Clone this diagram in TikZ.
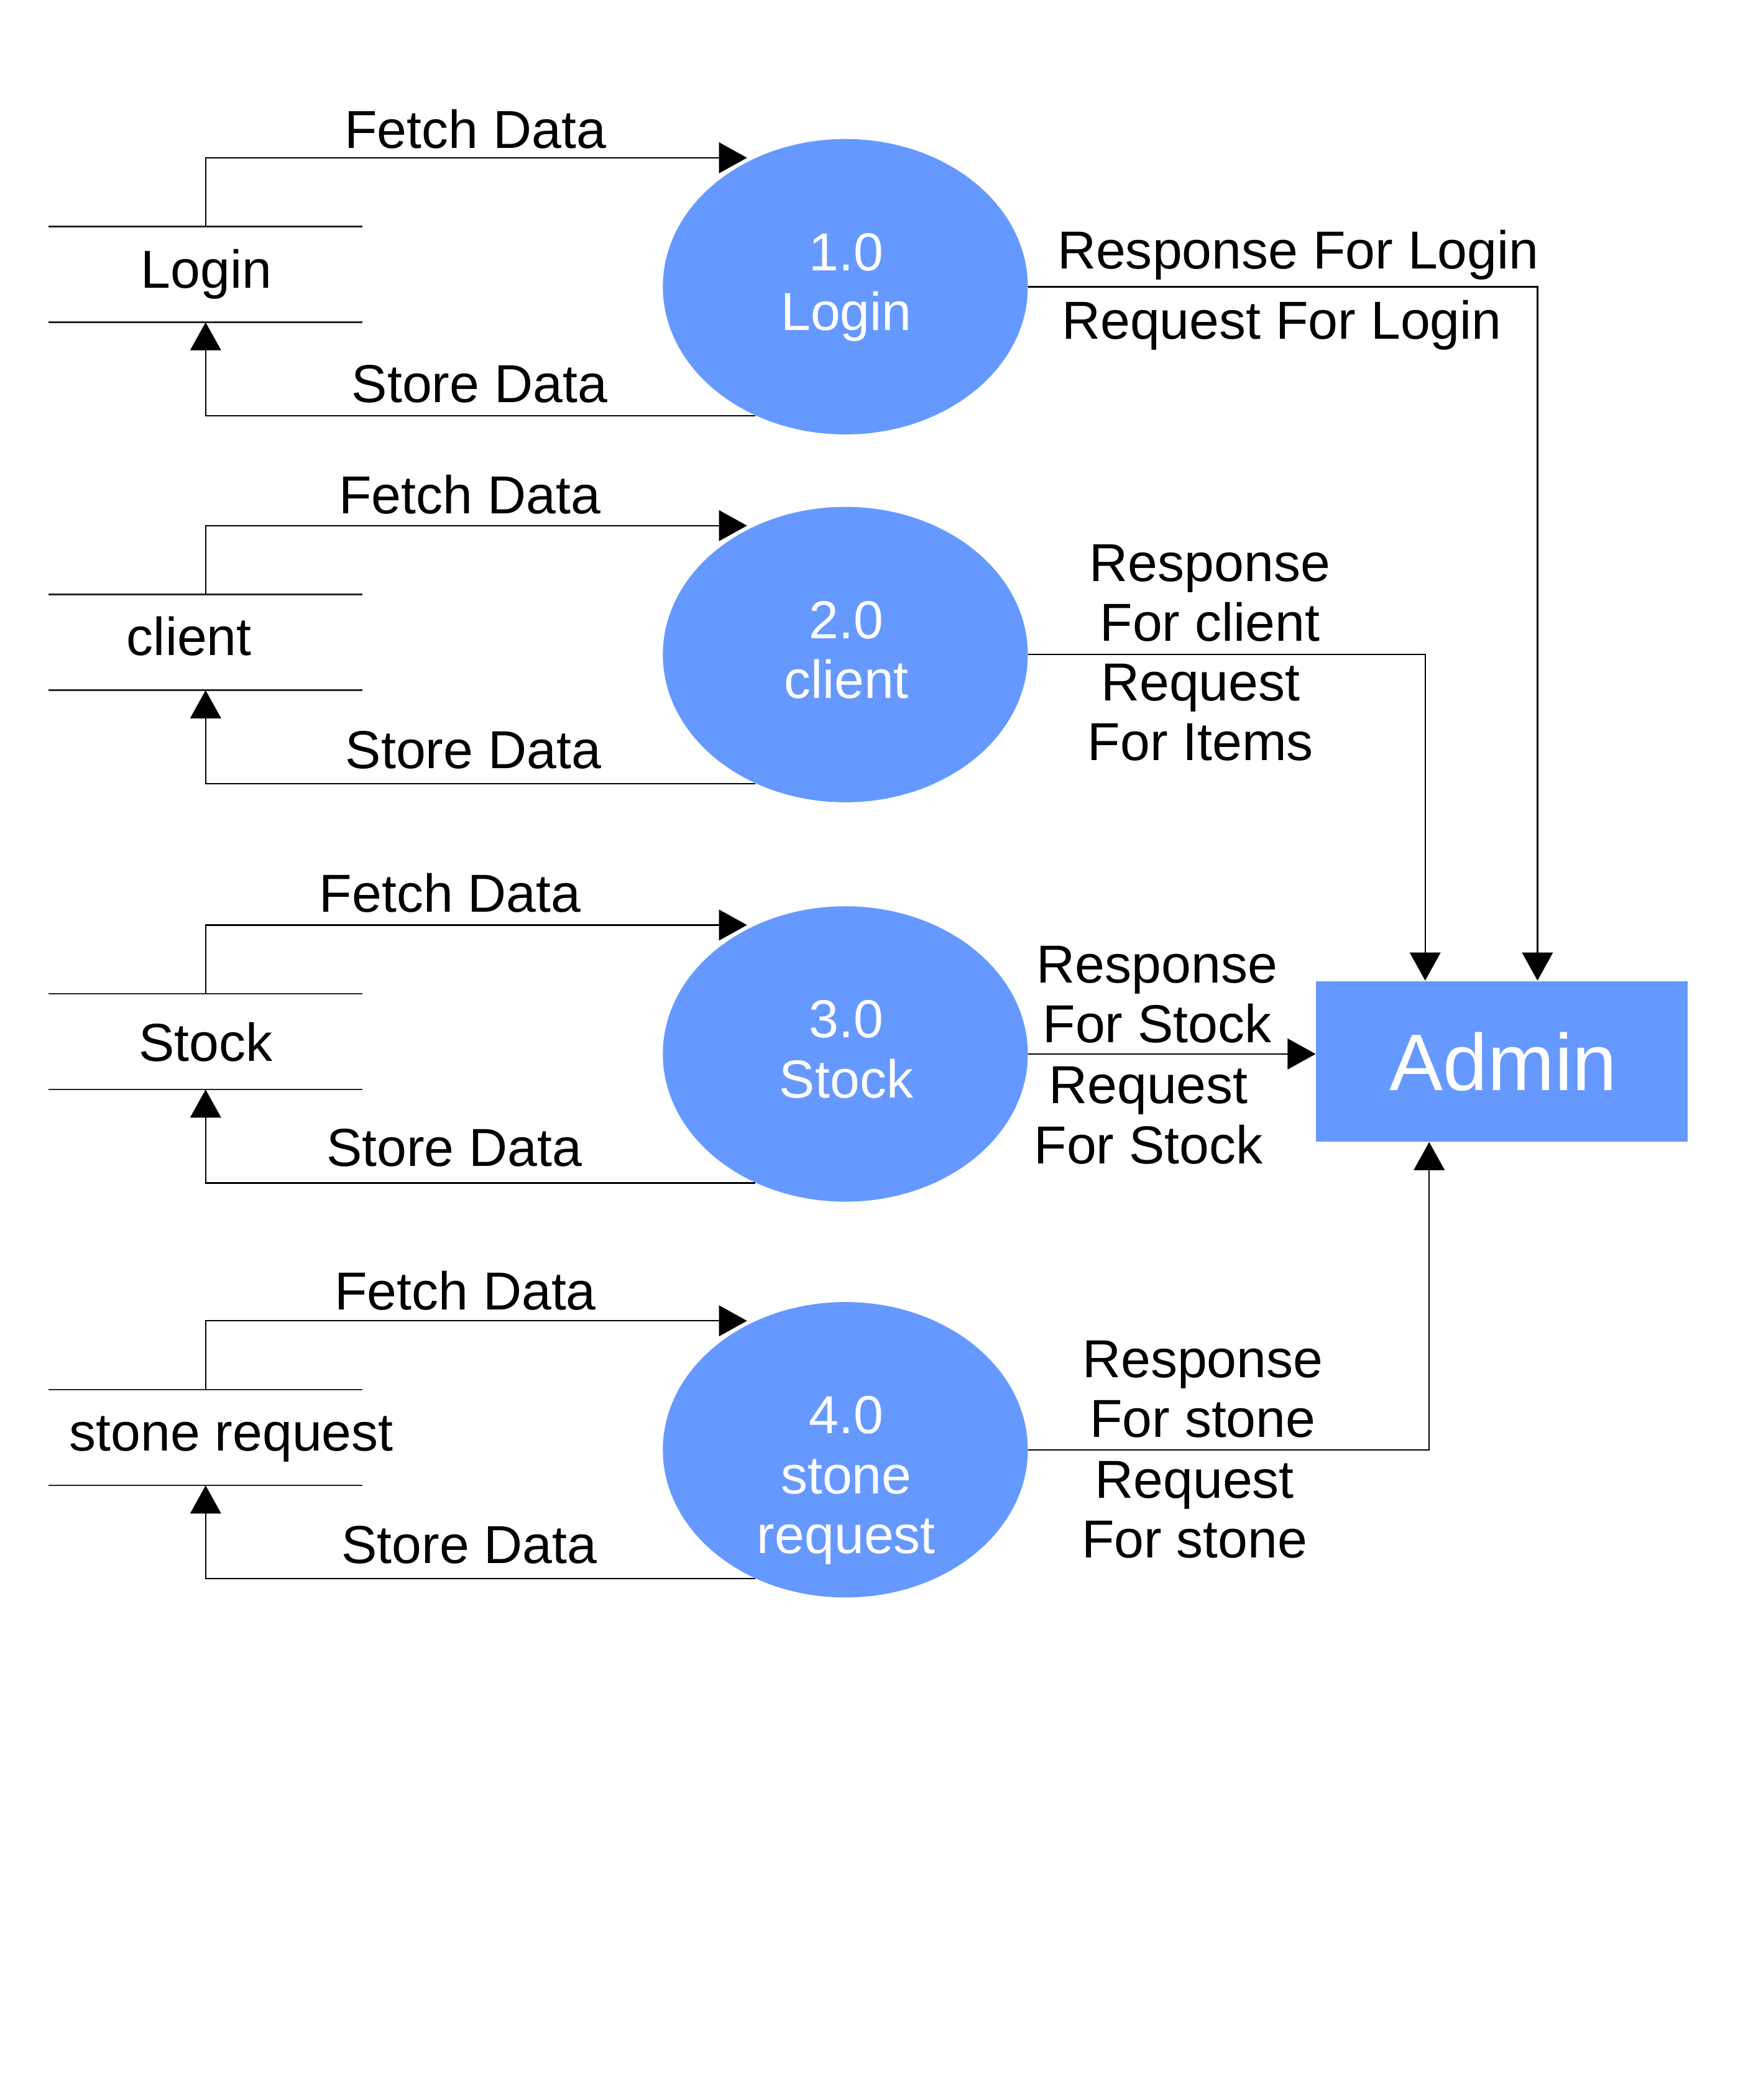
\documentclass[tikz,border=0pt]{standalone}
\usepackage{fontspec}
\setmainfont{Liberation Sans}
\usetikzlibrary{shapes.geometric,arrows.meta,calc}
\definecolor{procblue}{RGB}{102,153,255}
\begin{document}
\begin{tikzpicture}[x=0.5pt,y=-0.5pt,
  txt/.style={font=\fontsize{20pt}{22.4pt}\selectfont, inner sep=0pt, align=center, anchor=base},
  proc/.style={ellipse, fill=procblue, draw=none, minimum width=136.5pt, minimum height=110.5pt, inner sep=0pt},
  proctxt/.style={txt, text=white},
  storebox/.style={draw=none, minimum width=117pt, minimum height=35.4pt, inner sep=0pt},
  storeline/.style={line width=0.55pt, draw=black!85},
  flow/.style={line width=0.55pt, -{Triangle[length=10.5pt,width=11.5pt]}},
  conn/.style={line width=0.55pt}
]
\useasboundingbox (0,0) rectangle (1300,1571.07);

% processes
\node[proc] (e1) at (632.3,214.5) {};
\node[proc] (e2) at (632.3,489.7) {};
\node[proc] (e3) at (632.3,788.5) {};
\node[proc] (e4) at (632.3,1084.6) {};
\node[proctxt] (e1t) at (633,247.2) {1.0\\Login};
\node[proctxt] (e2t) at (633,522.4) {2.0\\client};
\node[proctxt] (e3t) at (633,821.2) {3.0\\Stock};
\node[proctxt] (e4t) at (633,1162.2) {4.0\\stone\\request};

% admin
\node[fill=procblue, minimum width=139pt, minimum height=60pt, inner sep=0pt] (adm) at (1123.5,794) {};
\node[txt, text=white, font=\fontsize{30pt}{34pt}\selectfont] (admt) at (1124.6,815.6) {Admin};

% data stores
\node[storebox] (s1) at (153.8,205.3) {};
\node[storebox] (s2) at (153.8,480.6) {};
\node[storebox] (s3) at (153.8,779.3) {};
\node[storebox] (s4) at (153.8,1075.5) {};
\foreach \s in {s1,s2,s3,s4}{
  \draw[storeline] (\s.north west) -- (\s.north east);
  \draw[storeline] (\s.south west) -- (\s.south east);
}
\node[txt] (s1t) at (154.3,215.6) {Login};
\node[txt] (s2t) at (141.5,490.5) {client};
\node[txt] (s3t) at (153.8,793.7) {Stock};
\node[txt] (s4t) at (173,1085.6) {stone request};

% fetch / store flows
\foreach \i in {1,2,3,4}{
  \draw[flow, shorten >=3pt] (s\i.north) |- (e\i.125);
  \draw[flow] (e\i.235) -| (s\i.south);
}
\node[txt] (f1) at (355.5,110.7) {Fetch Data};
\node[txt] (d1) at (358.7,301) {Store Data};
\node[txt] (f2) at (351.4,384.2) {Fetch Data};
\node[txt] (d2) at (354,575) {Store Data};
\node[txt] (f3) at (336.7,682.1) {Fetch Data};
\node[txt] (d3) at (339.8,872.6) {Store Data};
\node[txt] (f4) at (348,979.7) {Fetch Data};
\node[txt] (d4) at (351,1169.6) {Store Data};

% connectors to admin
\draw[flow] (e1.east) -| ([xshift=13.25pt]adm.north);
\draw[flow] (e2.east) -| ([xshift=-28.75pt]adm.north);
\draw[flow] (e3.east) -- (e3.east -| adm.west);
\draw[flow] (e4.east) -| ([xshift=-27.25pt]adm.south);

% labels
\node[txt] (r1) at (971,201.2) {Response For Login};
\node[txt] (q1) at (958.7,253.4) {Request For Login};
\node[txt] (r2) at (905,479.6) {Response\\For client};
\node[txt] (q2) at (898,568.9) {Request\\For Items};
\node[txt] (r3) at (865.5,780) {Response\\For Stock};
\node[txt] (q3) at (859,870.5) {Request\\For Stock};
\node[txt] (r4) at (899.6,1075.3) {Response\\For stone};
\node[txt] (q4) at (893.5,1165.4) {Request\\For stone};
\end{tikzpicture}
\end{document}
